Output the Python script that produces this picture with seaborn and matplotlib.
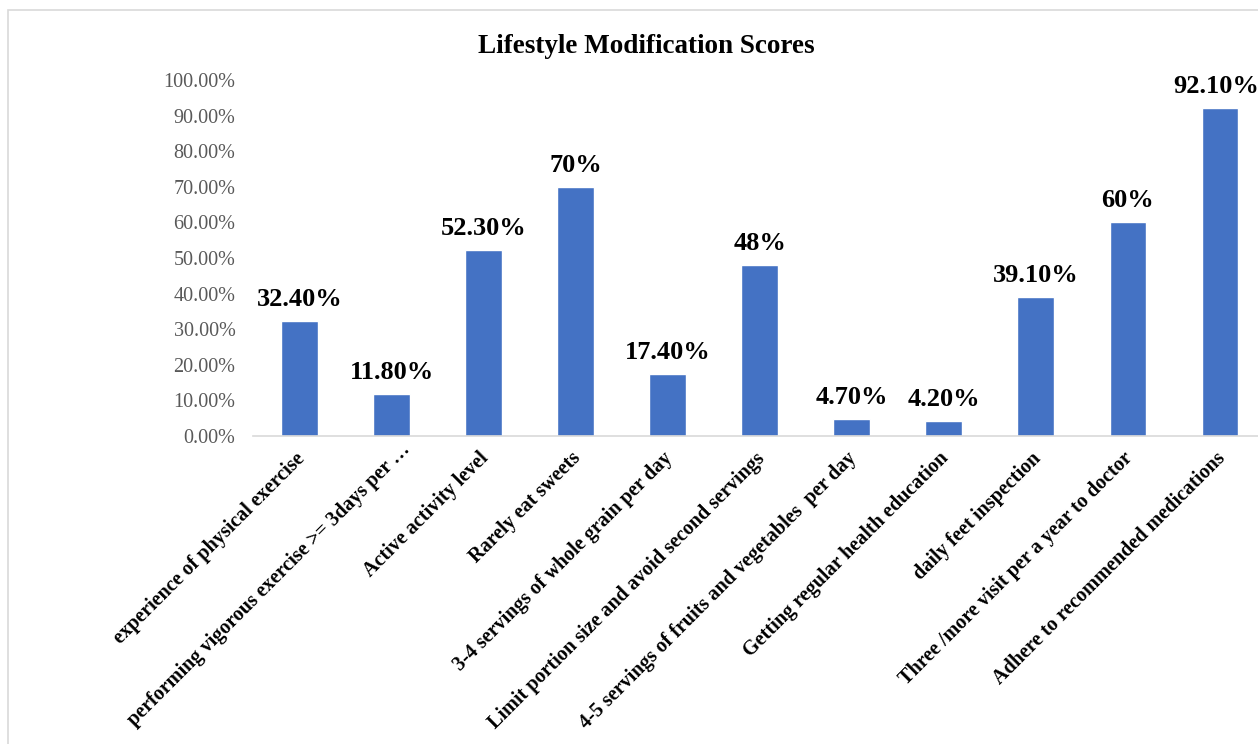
import matplotlib
matplotlib.use("Agg")
import matplotlib.pyplot as plt
import matplotlib.transforms as mtransforms
import seaborn as sns
import pandas as pd
from matplotlib.patches import Rectangle

categories = [
    "experience of physical exercise",
    "performing vigorous exercise >= 3days per \u2026",
    "Active activity level",
    "Rarely eat sweets",
    "3-4 servings of whole grain per day",
    "Limit portion size and avoid second servings",
    "4-5 servings of fruits and vegetables  per day",
    "Getting regular health education",
    "daily feet inspection",
    "Three /more visit per a year to doctor",
    "Adhere to recommended medications",
]
values = [0.324, 0.118, 0.523, 0.70, 0.174, 0.48, 0.047, 0.042, 0.391, 0.60, 0.921]
value_labels = ["32.40%", "11.80%", "52.30%", "70%", "17.40%", "48%",
                "4.70%", "4.20%", "39.10%", "60%", "92.10%"]
y_ticks = [0.0, 0.1, 0.2, 0.3, 0.4, 0.5, 0.6, 0.7, 0.8, 0.9, 1.0]
y_tick_labels = ["0.00%", "10.00%", "20.00%", "30.00%", "40.00%", "50.00%",
                 "60.00%", "70.00%", "80.00%", "90.00%", "100.00%"]
title = "Lifestyle Modification Scores"

sns.set_theme(style="white")
plt.rcParams['font.family'] = ['Liberation Serif', 'DejaVu Serif']

W, H = 1258, 744
fig = plt.figure(figsize=(W / 100, H / 100), dpi=100)
fig.patch.set_facecolor("white")

# chart-area border (light gray), partly outside the image
fig.patches.append(Rectangle((8 / W, -0.1), 1.2, 1 - 10 / H + 0.1,
                             transform=fig.transFigure, fill=False,
                             edgecolor="#D9D9D9", linewidth=1.2, zorder=0))

left = 253.5 / W
right = 1266 / W
bottom = 1 - 436 / H
top = 1 - 80 / H
ax = fig.add_axes([left, bottom, right - left, top - bottom])

df = pd.DataFrame({"cat": categories, "val": values})
sns.barplot(data=df, x="cat", y="val", color="#4472C4", saturation=1,
            width=0.4, ax=ax, errorbar=None)

ax.set_ylim(0, 1.0)
ax.set_xlim(-0.5, len(categories) - 0.5)
ax.set_yticks(y_ticks)
ax.set_yticklabels(y_tick_labels, color="#595959", fontsize=14.5)
ax.tick_params(axis="y", length=0, pad=13)
ax.tick_params(axis="x", length=0, pad=9)
ax.set_xticks(range(len(categories)))
ax.set_xticklabels(categories, rotation=45, ha="right", va="top",
                   rotation_mode="anchor", fontsize=14.5, fontweight="bold",
                   color="black")
for k, lbl in enumerate(ax.get_xticklabels()):
    dx, dy = (-5, 0) if k != 1 else (9, 9)
    lbl.set_transform(lbl.get_transform() +
                      mtransforms.ScaledTranslation(dx / 100, dy / 100, fig.dpi_scale_trans))
ax.set_xlabel("")
ax.set_ylabel("")
for s in ["top", "right", "left"]:
    ax.spines[s].set_visible(False)
ax.spines["bottom"].set_color("#D9D9D9")
ax.spines["bottom"].set_linewidth(1.2)
ax.grid(False)

for i, (v, lab) in enumerate(zip(values, value_labels)):
    dx = -3 if i == len(values) - 1 else 0
    ax.annotate(lab, xy=(i, v), xytext=(dx, 10.8), textcoords="offset points",
                ha="center", va="baseline", fontsize=19, fontweight="bold",
                color="black")

fig.text(646 / W, 1 - 53 / H, title, ha="center", va="baseline",
         fontsize=19.5, fontweight="bold", color="black")

fig.savefig("out.png", dpi=100)
